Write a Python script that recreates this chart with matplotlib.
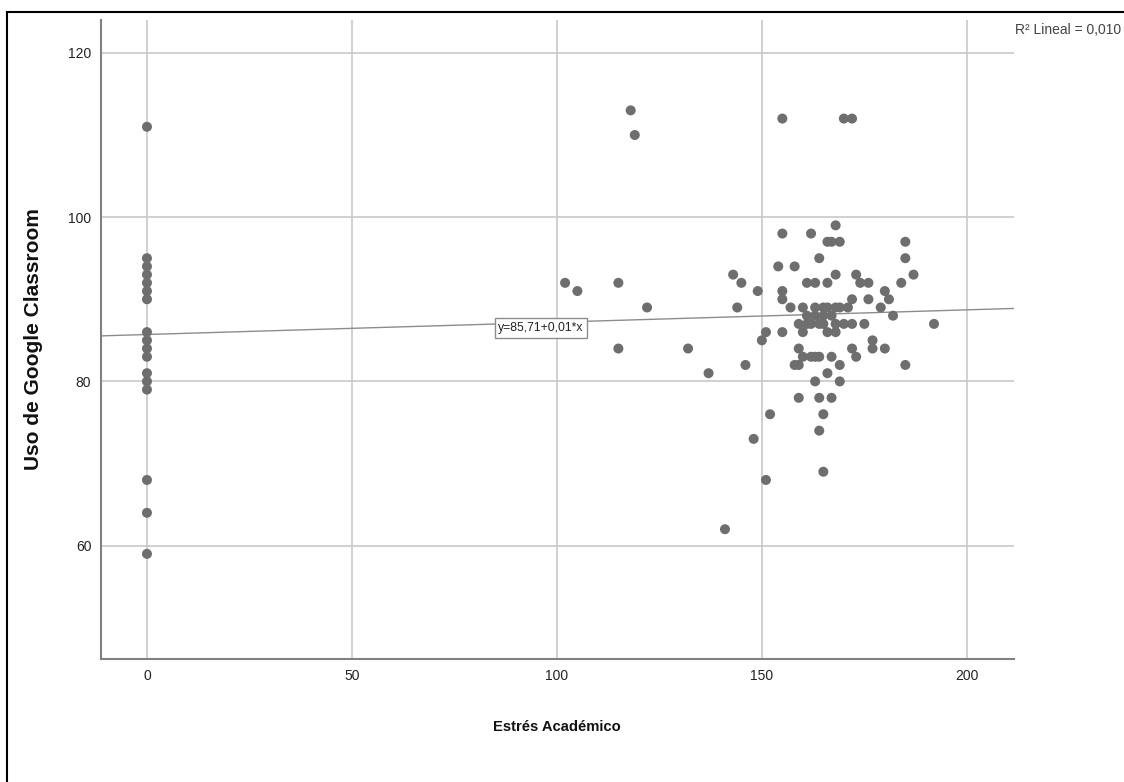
import matplotlib.pyplot as plt
from matplotlib.lines import Line2D

# Datos (Estrés Académico vs Uso de Google Classroom)
estres_cero = [0] * 17
uso_cero = [111, 95, 94, 93, 92, 91, 90, 86, 85, 84, 83, 81, 80, 79, 68, 64, 59]

estres = [102, 105, 115, 115, 118, 119, 122, 132, 137, 141, 143, 144, 145, 146, 148,
          149, 150, 151, 151, 152, 154, 155, 155, 155, 155, 155, 157, 158, 158, 159,
          159, 159, 159, 160, 160, 160, 161, 161, 161, 162, 162, 162, 163, 163, 163,
          163, 163, 164, 164, 164, 164, 164, 165, 165, 165, 165, 165, 166, 166, 166,
          166, 166, 167, 167, 167, 167, 168, 168, 168, 168, 168, 169, 169, 169, 169,
          170, 170, 171, 172, 172, 172, 172, 173, 173, 174, 175, 176, 176, 177, 177,
          179, 180, 180, 181, 182, 184, 185, 185, 185, 187, 192]
uso = [92, 91, 92, 84, 113, 110, 89, 84, 81, 62, 93, 89, 92, 82, 73,
       91, 85, 86, 68, 76, 94, 112, 98, 91, 90, 86, 89, 94, 82, 82,
       84, 87, 78, 89, 83, 86, 92, 88, 87, 98, 87, 83, 92, 89, 88,
       83, 80, 95, 87, 83, 78, 74, 89, 88, 87, 76, 69, 97, 92, 89,
       86, 81, 97, 88, 83, 78, 99, 93, 89, 87, 86, 97, 89, 82, 80,
       112, 87, 89, 112, 90, 87, 84, 93, 83, 92, 87, 92, 90, 85, 84,
       89, 91, 84, 90, 88, 92, 97, 95, 82, 93, 87]

# Recta de ajuste mostrada en el gráfico
intercepto = 85.71
pendiente = 0.015
ecuacion = "y=85,71+0,01*x"
r2_texto = "R² Lineal = 0,010"

plt.rcParams['font.family'] = ['Liberation Sans', 'DejaVu Sans']

fig = plt.figure(figsize=(11.24, 7.82), dpi=100)
ax = fig.add_axes([0.0899, 0.1573, 0.8122, 0.8171])

xlim = (-11.2, 211.5)
ylim = (46.2, 124.0)

ax.set_axisbelow(True)
ax.grid(True, color='#c8c8c8', linewidth=1.2)

# Línea de regresión
ax.plot(xlim, [intercepto + pendiente * xlim[0], intercepto + pendiente * xlim[1]],
        color='#8c8c8c', linewidth=1.0, zorder=2)

ax.scatter(estres_cero + estres, uso_cero + uso, s=52, color='#6e6e6e',
           edgecolors='none', zorder=3)

ax.text(96.1, 86.5, ecuacion, ha='center', va='center', fontsize=8.7, color='#222222',
        zorder=4, bbox=dict(boxstyle='square,pad=0.3', facecolor='white',
                            edgecolor='#8c8c8c', linewidth=1.0))

ax.set_xlim(xlim)
ax.set_ylim(ylim)
ax.set_xticks([0, 50, 100, 150, 200])
ax.set_yticks([60, 80, 100, 120])
ax.tick_params(length=0, pad=7, labelsize=10, colors='#222222')

for lado in ['top', 'right']:
    ax.spines[lado].set_visible(False)
for lado in ['left', 'bottom']:
    ax.spines[lado].set_color('#808080')
    ax.spines[lado].set_linewidth(1.5)

ax.set_xlabel("Estrés Académico", fontsize=10.6, fontweight='bold', color='#111111')
ax.set_ylabel("Uso de Google Classroom", fontsize=15, fontweight='bold', color='#111111')
ax.xaxis.set_label_coords(0.4995, -0.095)
ax.yaxis.set_label_coords(-0.0635, 0.5)

fig.text(0.903, 0.9616, r2_texto, ha='left', va='center', fontsize=10, color='#444444')

# Marco exterior
fig.add_artist(Line2D([0.0062, 1.0], [0.9847, 0.9847], color='black', linewidth=1.5))
fig.add_artist(Line2D([0.0062, 0.0062], [0.0, 0.9847], color='black', linewidth=1.5))

fig.savefig('out.png', dpi=100)
